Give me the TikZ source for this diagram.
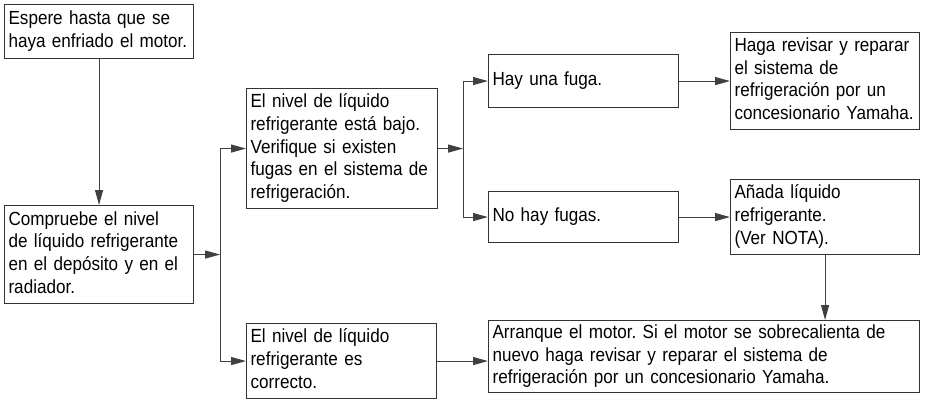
\documentclass[tikz,border=0pt]{standalone}
\usepackage{fontspec}
\setmainfont{Liberation Sans}[FakeStretch=0.9]
\usetikzlibrary{arrows.meta,calc}
\frenchspacing
\newcommand{\boxlines}[1]{\begin{tabular}{@{}l@{}}#1\end{tabular}}
\begin{document}
\begin{tikzpicture}[x=1pt,y=-1pt,
  box/.style={draw=black!80, line width=1.1pt, anchor=north west, inner xsep=4pt, inner ysep=0pt,
    align=left, text=black, font=\fontsize{19}{22.7}\selectfont},
  arr/.style={draw=black!75, line width=1.1pt, -{Triangle[length=15pt,width=8pt]}}]
\useasboundingbox (0,0) rectangle (925,399);

\node[box, text width=181pt, minimum height=53.5pt] (b1) at (4,4)
  {\boxlines{Espere hasta que se\\haya enfriado el motor.}};
\node[box, text width=181pt, minimum height=98pt] (b2) at (4,205)
  {\boxlines{Compruebe el nivel\\de líquido refrigerante\\en el depósito y en el\\radiador.}};
\node[box, text width=183pt, minimum height=120pt] (b3) at (246,88)
  {\boxlines{El nivel de líquido\\refrigerante está bajo.\\Verifique si existen\\fugas en el sistema de\\refrigeración.}};
\node[box, text width=182pt, minimum height=75pt] (b5) at (246,323)
  {\boxlines{El nivel de líquido\\refrigerante es\\correcto.}};
\node[box, text width=182pt, minimum height=53pt] (hay) at (488,54)
  {\boxlines{Hay una fuga.}};
\node[box, text width=182pt, minimum height=51pt] (nohay) at (488,191)
  {\boxlines{No hay fugas.}};
\node[box, text width=181pt, minimum height=97pt] (haga) at (730,32)
  {\boxlines{Haga revisar y reparar\\el sistema de\\refrigeración por un\\concesionario Yamaha.}};
\node[box, text width=181pt, minimum height=75pt] (anada) at (730,179)
  {\boxlines{Añada líquido\\refrigerante.\\(Ver NOTA).}};
\node[box, text width=423pt, minimum height=72pt] (final) at (488,320)
  {\boxlines{Arranque el motor. Si el motor se sobrecalienta de\\nuevo haga revisar y reparar el sistema de\\refrigeración por un concesionario Yamaha.}};

\path (b2.east) ++(26,0) coordinate (j1);
\path (b3.east) ++(25,0) coordinate (j2);

\draw[arr] (b1.south) -- (b2.north);
\draw[arr] (b2.east) -- (j1);
\draw[arr] (j1) |- (b3.west);
\draw[arr] (j1) |- (b5.west);
\draw[arr] (b3.east) -- (j2);
\draw[arr] (j2) |- (hay.west);
\draw[arr] (j2) |- (nohay.west);
\draw[arr] (hay.east) -- (haga.west);
\draw[arr] (nohay.east) -- (anada.west);
\draw[arr] (anada.south) -- (anada.south |- final.north);
\draw[arr] (b5.east) -- (b5.east -| final.west);
\end{tikzpicture}
\end{document}
